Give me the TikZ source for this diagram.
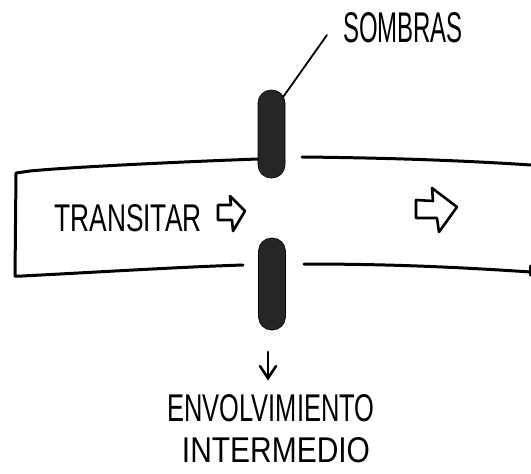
\documentclass[tikz,border=0pt]{standalone}
\usepackage{fontspec}
\setmainfont{Liberation Sans}
\usetikzlibrary{calc}
\tikzset{
  hand/.style={line width=3pt, line cap=round, line join=round},
  leader/.style={line width=1.8pt, line cap=round},
  shadowblob/.style={fill=black!85, draw=black, line width=0.6pt, rounded corners=13pt,
                     minimum width=27pt, inner sep=0pt},
  handlabel/.style={inner sep=0pt, anchor=center},
  blockarrow/.style={line width=2.6pt, line join=round},
  downarrow/.style={line width=2.6pt, line cap=round, line join=miter}
}
\begin{document}
\begin{tikzpicture}[x=1pt,y=-1pt]
\useasboundingbox (0,0) rectangle (531,474);
% shadows
\node[shadowblob, minimum height=88pt] (up) at (271.5,134) {};
\node[shadowblob, minimum height=92pt] (low) at (272,284) {};
% band, left part
\draw[hand] ($(up.west)+(0,25)$) .. controls (150,163) and (60,168) .. (30,171)
   -- (16,173) -- (15,276) -- (22,276) .. controls (100,272) and (180,267) .. (243,265);
% band, right part
\draw[hand] (302,157) .. controls (400,158) and (470,161) .. (531,165);
\draw[hand] (304,264) .. controls (400,264) and (470,268) .. (531,272);
\draw[hand] (530,266) -- (530,275);
% labels
\node[handlabel] (sombras) at (403,28) {\resizebox{120pt}{30pt}{SOMBRAS}};
\node[handlabel] (transitar) at (128,218) {\resizebox{147pt}{27pt}{TRANSITAR}};
\node[handlabel] (envol) at (271,408) {\resizebox{207pt}{27pt}{ENVOLVIMIENTO}};
\node[handlabel] (inter) at (276,450) {\resizebox{188pt}{25pt}{INTERMEDIO}};
% leader
\coordinate (leadend) at (327,35);
\draw[leader] ($(up.north east)+(-2,7)$) -- (leadend);
% block arrows
\draw[blockarrow] (218,205) -- (231,205) -- (230,196) -- (245,211) -- (233,231) -- (232,220) -- (218,220) -- cycle;
\draw[blockarrow] (416,200) -- (433,201) -- (432,188) -- (457,207) -- (439,232) -- (437,218) -- (416,218) -- cycle;
% down arrow
\coordinate (darrowtop) at (268,352);
\coordinate (darrowend) at ($(envol.north)+(-3,-16)$);
\draw[downarrow] (darrowtop) -- (darrowend);
\draw[downarrow] ($(darrowend)+(-8,-12)$) -- (darrowend) -- ($(darrowend)+(8,-12)$);
\end{tikzpicture}
\end{document}
